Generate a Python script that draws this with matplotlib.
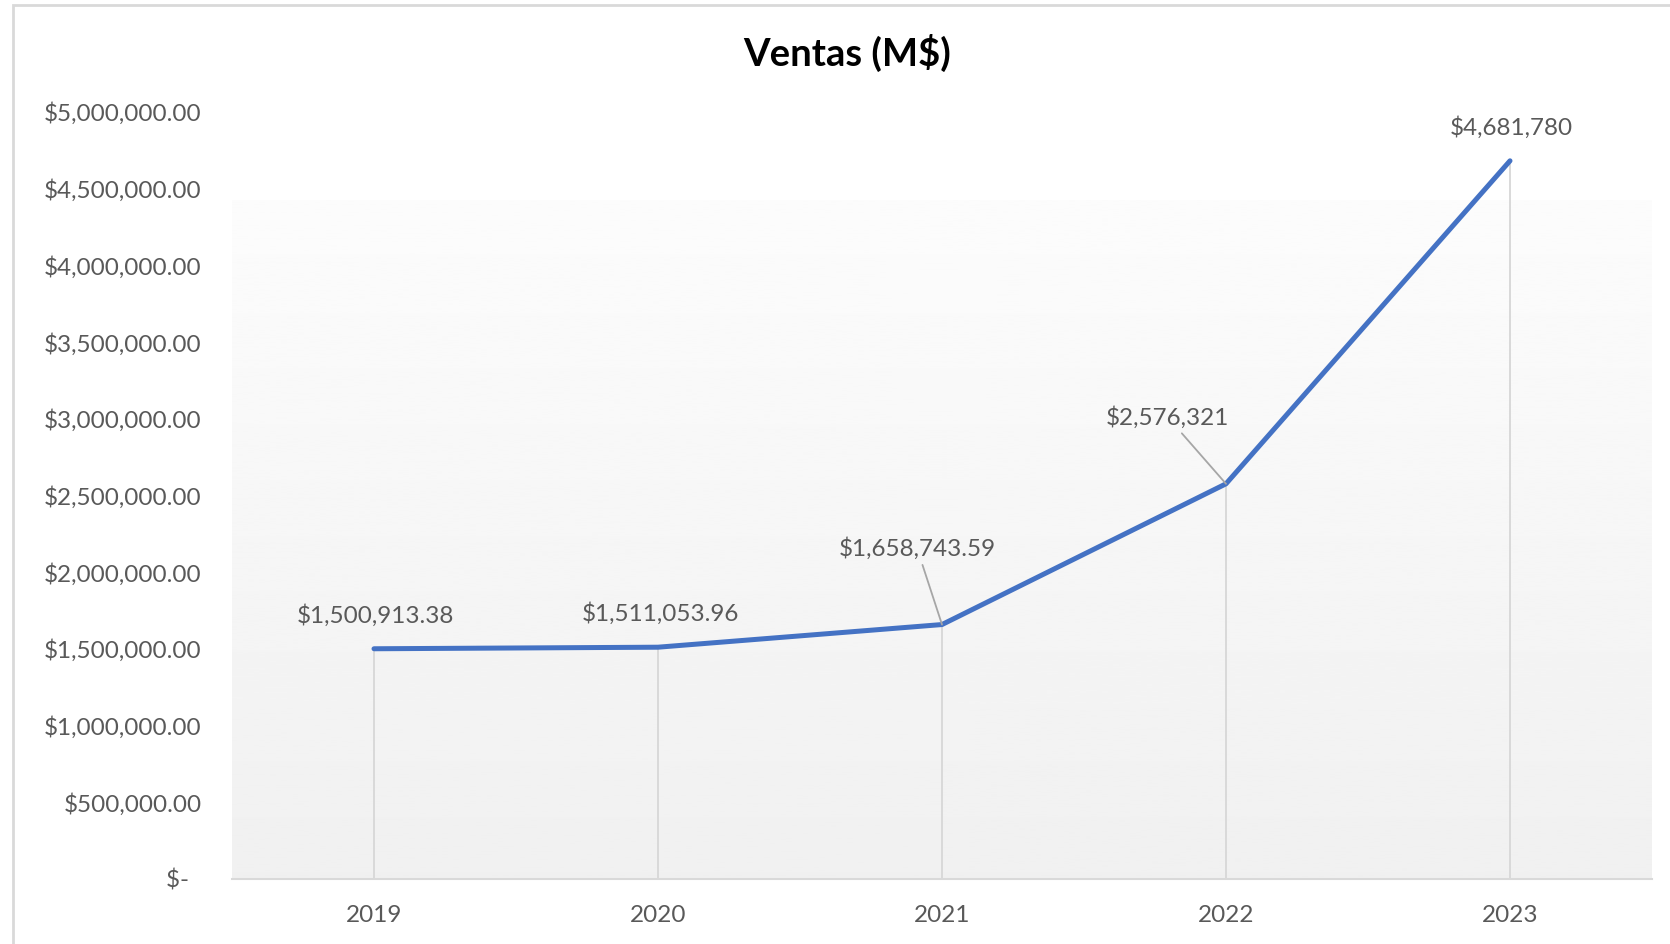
import matplotlib.pyplot as plt
import matplotlib.patches as patches
import numpy as np

plt.rcParams['font.family'] = ['Lato', 'DejaVu Sans']

years = ['2019', '2020', '2021', '2022', '2023']
ventas = [1500913.38, 1511053.96, 1658743.59, 2576321, 4681780]
etiquetas = ['$1,500,913.38', '$1,511,053.96', '$1,658,743.59', '$2,576,321', '$4,681,780']
y_ticks = [0, 500000, 1000000, 1500000, 2000000, 2500000, 3000000, 3500000, 4000000, 4500000, 5000000]

# label offsets in points (dx, dy) and whether a leader line is drawn
label_off = [(1, 24), (2, 24), (-18, 55), (-42, 48), (1, 24)]
leader = [False, False, True, True, False]

W, H = 1670, 944
fig = plt.figure(figsize=(W / 100, H / 100), dpi=100)
fig.patch.set_facecolor('white')

# outer chart border
fig.patches.append(patches.Rectangle((13 / W, -0.1), 1.2, 1 - 5 / H + 0.1,
                                     transform=fig.transFigure, fill=False,
                                     edgecolor='#d9d9d9', lw=2))

ax = fig.add_axes([232 / W, 1 - 879 / H, 1420 / W, (879 - 112) / H])
x = np.arange(len(years))

ax.set_xlim(-0.5, len(years) - 0.5)
ax.set_ylim(0, 5000000)

# plot area gradient
grad = np.linspace(252, 240, 256).reshape(-1, 1) / 255.0
ax.imshow(grad, extent=(-0.5, len(years) - 0.5, 0, 4426000), aspect='auto',
          cmap='gray', vmin=0, vmax=1, zorder=0, origin='upper')

# drop lines
ax.vlines(x, 0, ventas, color='#d9d9d9', lw=1.4, zorder=1)
ax.plot(x, ventas, color='#4472C4', lw=3.6, solid_capstyle='round', zorder=3)

for i, (v, lab) in enumerate(zip(ventas, etiquetas)):
    kw = {}
    if leader[i]:
        kw['arrowprops'] = dict(arrowstyle='-', color='#a6a6a6', lw=1.3,
                                shrinkA=2, shrinkB=0)
    ax.annotate(lab, (x[i], v), xytext=label_off[i], textcoords='offset points',
                ha='center', va='center', fontsize=17.5, color='#595959', zorder=4, **kw)

ax.set_xticks(x)
ax.set_xticklabels(years)
ax.set_yticks(y_ticks)
ax.set_yticklabels(['$-  '] + ['${:,.2f}'.format(t) for t in y_ticks[1:]])
ax.tick_params(axis='both', length=0, labelsize=17.5, labelcolor='#595959')
ax.tick_params(axis='y', pad=22)
ax.tick_params(axis='x', pad=19)

for s in ['top', 'right', 'left']:
    ax.spines[s].set_visible(False)
ax.spines['bottom'].set_color('#d9d9d9')
ax.spines['bottom'].set_linewidth(1.5)
ax.set_facecolor('white')

fig.text(847 / W, 1 - 53 / H, 'Ventas (M$)', ha='center', va='center',
         fontsize=27.5, fontweight='bold', color='black')

fig.savefig('out.png', dpi=100)
